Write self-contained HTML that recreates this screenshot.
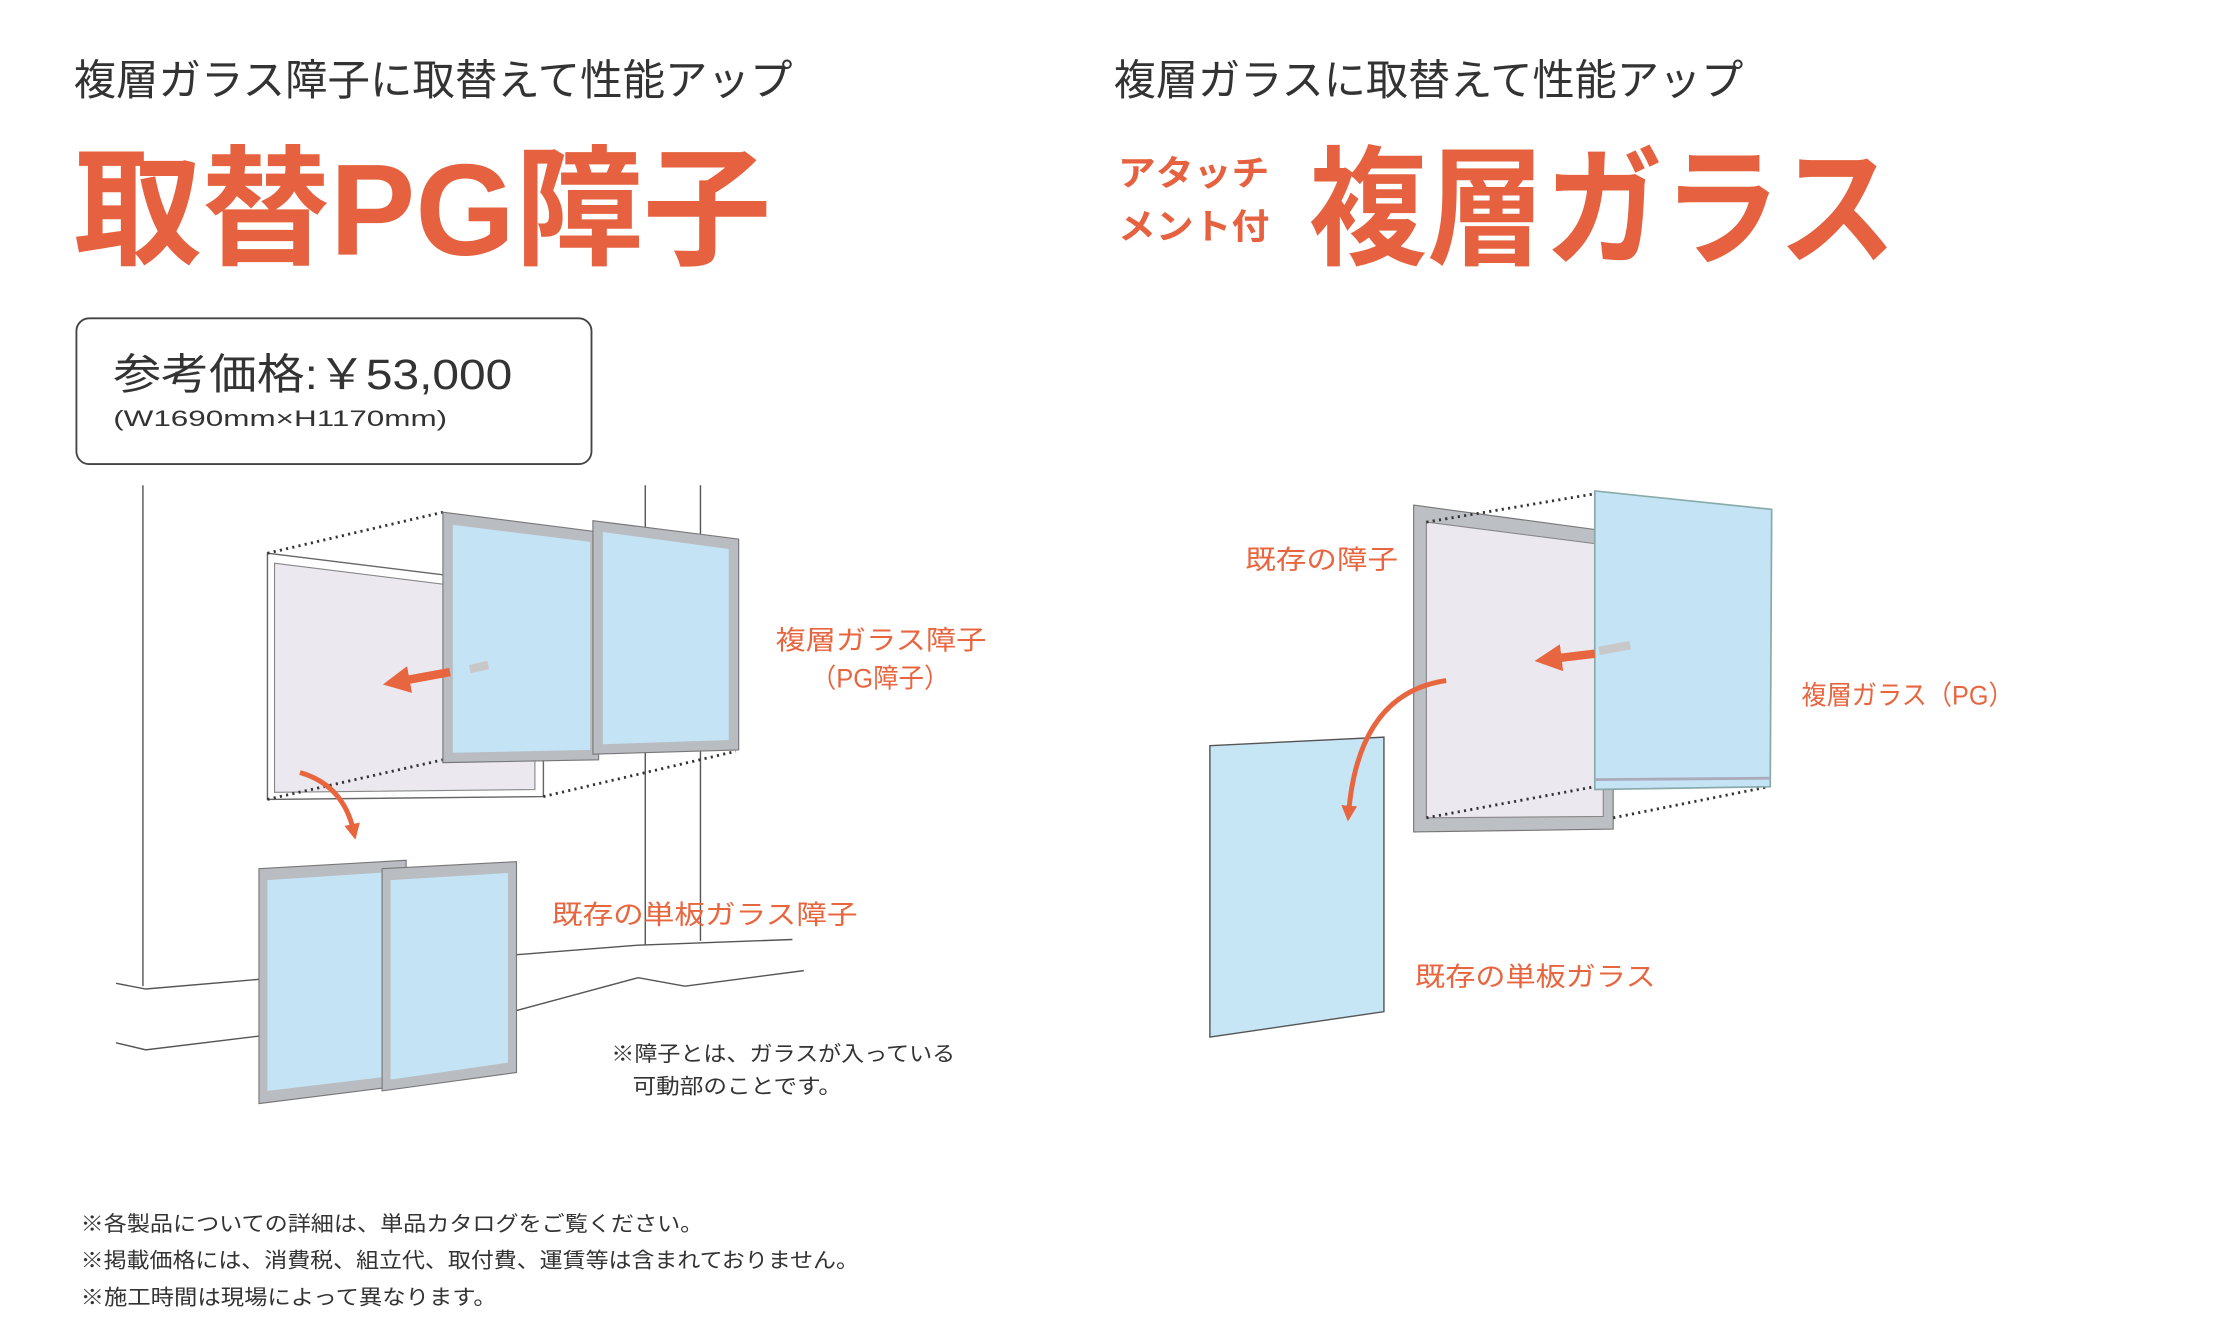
<!DOCTYPE html>
<html><head><meta charset="utf-8"><style>
html,body{margin:0;padding:0;background:#fff;}
svg{display:block;}
text{font-family:"Liberation Sans","Noto Sans CJK JP",sans-serif;}
</style></head><body>
<svg width="2216" height="1330" viewBox="0 0 1566 940" preserveAspectRatio="none" xmlns="http://www.w3.org/2000/svg">
<defs>
<marker id="ah" viewBox="0 0 10 10" refX="5" refY="5" markerWidth="3.2" markerHeight="3.2" orient="auto"><path d="M0,0 L10,5 L0,10 z" fill="#e8663f"/></marker>
</defs>
<rect width="1566" height="940" fill="#fff"/>
<text x="52" y="67" font-size="30" fill="#333" textLength="508" lengthAdjust="spacingAndGlyphs">複層ガラス障子に取替えて性能アップ</text>
<text x="52" y="180" font-size="92" font-weight="bold" fill="#e5613f" textLength="493" lengthAdjust="spacingAndGlyphs">取替PG障子</text>
<text x="787" y="67" font-size="30" fill="#333" textLength="445" lengthAdjust="spacingAndGlyphs">複層ガラスに取替えて性能アップ</text>
<text x="790" y="131" font-size="25" font-weight="bold" fill="#e5613f" textLength="107" lengthAdjust="spacingAndGlyphs">アタッチ</text>
<text x="790" y="169" font-size="25" font-weight="bold" fill="#e5613f" textLength="107" lengthAdjust="spacingAndGlyphs">メント付</text>
<text x="925" y="180" font-size="92" font-weight="bold" fill="#e5613f" textLength="415" lengthAdjust="spacingAndGlyphs">複層ガラス</text>
<rect x="54" y="225" width="364" height="103" rx="9" fill="#fff" stroke="#444" stroke-width="1.3"/>
<text x="80" y="275" font-size="30" fill="#333" textLength="282" lengthAdjust="spacingAndGlyphs">参考価格:￥53,000</text>
<text x="80" y="301" font-size="16" fill="#333" textLength="236" lengthAdjust="spacingAndGlyphs">(W1690mm×H1170mm)</text>
<g stroke="#555" stroke-width="1" fill="none">
<line x1="101" y1="343" x2="101" y2="697"/>
<line x1="456" y1="343" x2="456" y2="668"/>
<line x1="495" y1="343" x2="495" y2="665"/>
<polyline points="82,695 103,699 185,692"/>
<polyline points="362,675 451,668 560,664"/>
<polyline points="82,737 103,742 185,732"/>
<polyline points="362,715 451,691 484,697 568,686"/>
</g>
<polygon points="189,391 384,415 384,563 189,565" fill="#fff" stroke="#666" stroke-width="1"/>
<polygon points="194,398 378,421 378,558 194,560" fill="#ebe9ef" stroke="#888" stroke-width="0.8"/>
<g stroke="#333" stroke-width="2" stroke-dasharray="1.5 3" fill="none">
<line x1="189" y1="391" x2="313" y2="362"/>
<line x1="189" y1="565" x2="313" y2="537"/>
<line x1="384" y1="563" x2="520" y2="531"/>
</g>
<polygon points="313,362 423,376 423,537 313,539" fill="#b9bdc2" stroke="#777" stroke-width="0.8"/>
<polygon points="320,371 417,383 417,530 320,532" fill="#c4e4f5"/>
<polygon points="419,368 522,381 522,530 419,533" fill="#b9bdc2" stroke="#777" stroke-width="0.8"/>
<polygon points="426,376 515,388 515,523 426,526" fill="#c4e4f5"/>
<line x1="332" y1="473" x2="345" y2="470" stroke="#c8c8c8" stroke-width="6"/>
<line x1="318" y1="475" x2="280" y2="482" stroke="#e8663f" stroke-width="6" marker-end="url(#ah)"/>
<path d="M212,546 Q243,555 250,588" stroke="#e8663f" stroke-width="3.5" fill="none" marker-end="url(#ah)"/>
<polygon points="183,614 287,608 287,767 183,780" fill="#b9bdc2" stroke="#777" stroke-width="0.8"/>
<polygon points="189,622 281,616 281,760 189,771" fill="#c4e4f5"/>
<polygon points="270,614 365,609 365,758 270,771" fill="#b9bdc2" stroke="#777" stroke-width="0.8"/>
<polygon points="276,622 359,617 359,751 276,763" fill="#c4e4f5"/>
<g font-size="19" fill="#e8663f">
<text x="548" y="459" textLength="149" lengthAdjust="spacingAndGlyphs">複層ガラス障子</text>
<text x="573" y="486" textLength="98" lengthAdjust="spacingAndGlyphs">（PG障子）</text>
<text x="390" y="653" textLength="216" lengthAdjust="spacingAndGlyphs">既存の単板ガラス障子</text>
</g>
<text x="432" y="750" font-size="15" fill="#333" textLength="243" lengthAdjust="spacingAndGlyphs">※障子とは、ガラスが入っている</text>
<text x="447" y="773" font-size="15" fill="#333" textLength="148" lengthAdjust="spacingAndGlyphs">可動部のことです。</text>
<g font-size="15" fill="#333">
<text x="57" y="870" textLength="440" lengthAdjust="spacingAndGlyphs">※各製品についての詳細は、単品カタログをご覧ください。</text>
<text x="57" y="896" textLength="550" lengthAdjust="spacingAndGlyphs">※掲載価格には、消費税、組立代、取付費、運賃等は含まれておりません。</text>
<text x="57" y="922" textLength="294" lengthAdjust="spacingAndGlyphs">※施工時間は現場によって異なります。</text>
</g>
<polygon points="999,357 1140,376 1140,586 999,588" fill="#bcc0c4" stroke="#777" stroke-width="0.8"/>
<polygon points="1008,369 1133,385 1133,577 1008,578" fill="#ebe9ef" stroke="#888" stroke-width="0.8"/>
<g stroke="#333" stroke-width="2" stroke-dasharray="1.5 3" fill="none">
<line x1="1008" y1="369" x2="1127" y2="349"/>
<line x1="1008" y1="578" x2="1127" y2="556"/>
<line x1="1140" y1="578" x2="1250" y2="556"/>
</g>
<polygon points="1127,347 1252,360 1251,556 1127,558" fill="#c4e4f5" stroke="#8aa" stroke-width="1.2"/>
<line x1="1127" y1="551" x2="1251" y2="550" stroke="#aab" stroke-width="2"/>
<line x1="1130" y1="460" x2="1152" y2="456" stroke="#c8c8c8" stroke-width="6"/>
<line x1="1127" y1="462" x2="1094" y2="466" stroke="#e8663f" stroke-width="6" marker-end="url(#ah)"/>
<polygon points="855,527 978,521 978,715 855,733" fill="#c6e5f5" stroke="#555" stroke-width="1"/>
<path d="M1022,481 Q960,490 953,575" stroke="#e8663f" stroke-width="3.5" fill="none" marker-end="url(#ah)"/>
<g font-size="19" fill="#e8663f">
<text x="880" y="402" textLength="108" lengthAdjust="spacingAndGlyphs">既存の障子</text>
<text x="1273" y="498" textLength="150" lengthAdjust="spacingAndGlyphs">複層ガラス（PG）</text>
<text x="1000" y="697" textLength="170" lengthAdjust="spacingAndGlyphs">既存の単板ガラス</text>
</g>
</svg>
</body></html>
